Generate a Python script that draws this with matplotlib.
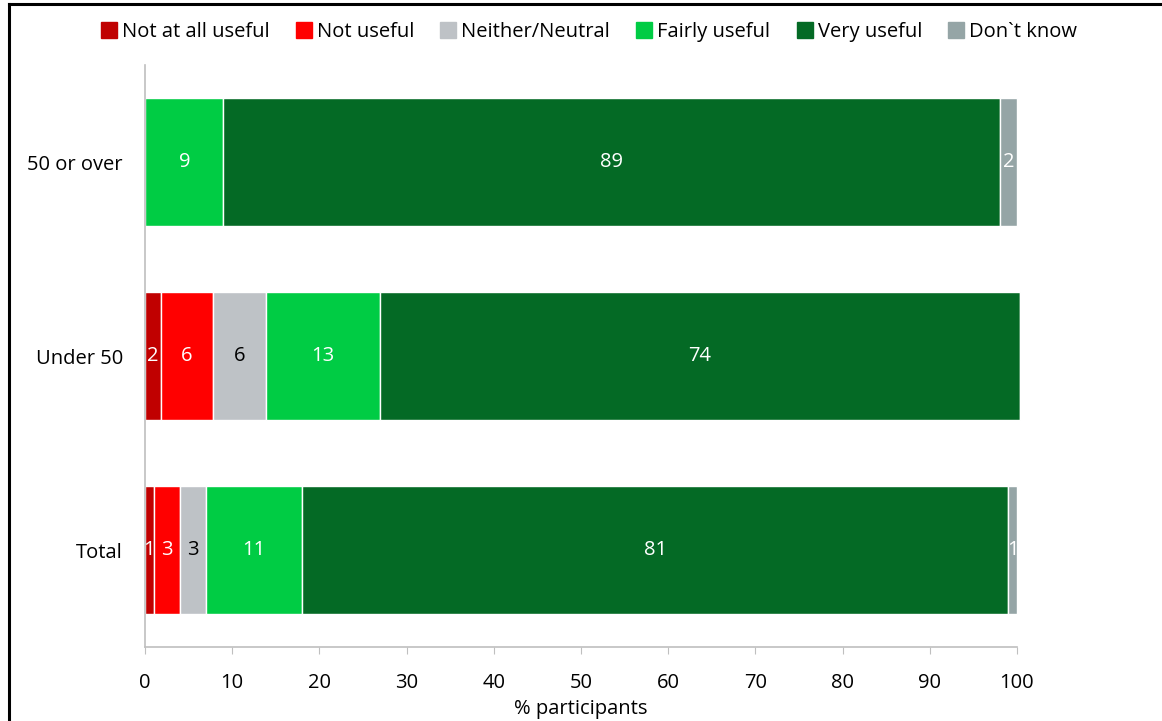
import matplotlib
matplotlib.use("Agg")
import matplotlib.pyplot as plt
from matplotlib.lines import Line2D
import numpy as np

plt.rcParams['font.family'] = ['Open Sans', 'DejaVu Sans']

groups = ["Total", "Under 50", "50 or over"]
responses = ["Not at all useful", "Not useful", "Neither/Neutral",
             "Fairly useful", "Very useful", "Don`t know"]
not_at_all = [1, 1.8, 0]
not_useful = [3, 6.0, 0]
neutral = [3, 6.1, 0]
fairly = [11, 13.0, 9]
very = [81, 73.5, 89]
dont_know = [1, 0, 2]
series = [not_at_all, not_useful, neutral, fairly, very, dont_know]

colors = ["#C00000", "#FF0000", "#BEC2C6", "#00CC44", "#046A25", "#95A5A6"]
text_colors = ["white", "white", "black", "white", "white", "white"]

fig = plt.figure(figsize=(11.62, 7.21), dpi=100)
ax = fig.add_axes([0.1248, 0.1026, 0.7504, 0.8072])

y = np.arange(len(groups))
left = np.zeros(len(groups))
for vals, col, tcol, name in zip(series, colors, text_colors, responses):
    vals = np.array(vals, dtype=float)
    ax.barh(y, vals, left=left, height=0.66, color=col,
            edgecolor="white", linewidth=1.0, label=name, clip_on=False)
    for yi, v, l in zip(y, vals, left):
        if v > 0:
            ax.text(l + v / 2, yi, f"{v:.0f}", ha="center", va="center",
                    color=tcol, fontsize=14.5)
    left += vals

ax.set_xlim(0, 100)
ax.set_ylim(-0.5, 2.5)
ax.set_xticks(np.arange(0, 101, 10))
ax.set_yticks(y)
ax.set_yticklabels(groups, fontsize=14.5)
ax.tick_params(axis="x", labelsize=14.5, length=5, color="#BFBFBF", pad=14)
ax.tick_params(axis="y", length=0, pad=16)
for s in ["top", "right"]:
    ax.spines[s].set_visible(False)
for s in ["left", "bottom"]:
    ax.spines[s].set_color("#BFBFBF")
    ax.spines[s].set_linewidth(1.2)
ax.set_xlabel("% participants", fontsize=14.5, labelpad=4)

handles = [Line2D([0], [0], marker="s", linestyle="", markersize=11,
                  markerfacecolor=c, markeredgecolor=c) for c in colors]
fig.legend(handles, responses, loc="center", bbox_to_anchor=(0.506, 0.956),
           ncol=6, frameon=False, fontsize=14.5, handletextpad=0.15,
           columnspacing=1.2, handlelength=1.0)

# outer frame lines
fig.add_artist(Line2D([0.0077, 0.0077], [0, 0.9945], transform=fig.transFigure,
                      color="black", linewidth=2.2))
fig.add_artist(Line2D([0.0077, 1.0], [0.9945, 0.9945], transform=fig.transFigure,
                      color="black", linewidth=2.2))

fig.savefig("out.png", dpi=100)
